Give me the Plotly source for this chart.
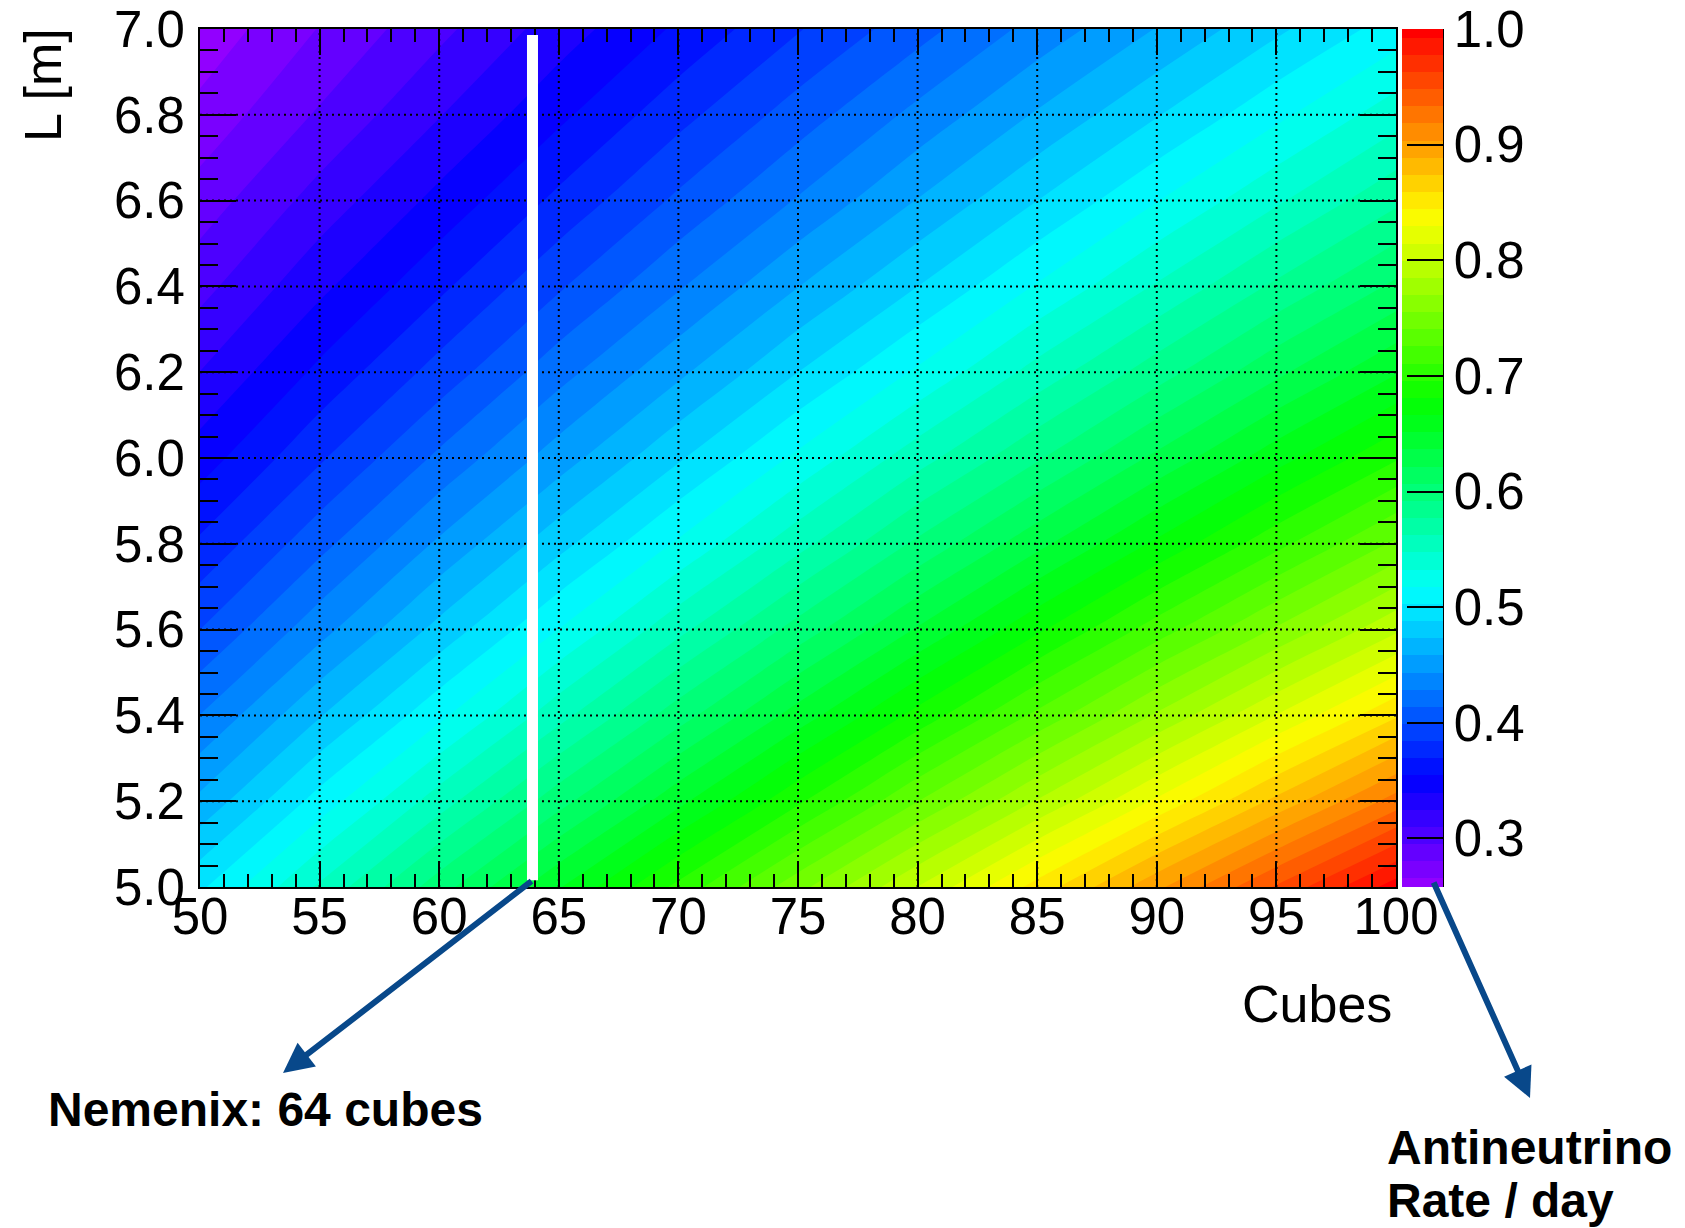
import colorsys
import plotly.graph_objects as go

# ---------------- data ----------------
cubes = [50, 55, 60, 65, 70, 75, 80, 85, 90, 95, 100]
length_m = [5.0, 5.2, 5.4, 5.6, 5.8, 6.0, 6.2, 6.4, 6.6, 6.8, 7.0]

rate_L50 = [0.500, 0.550, 0.600, 0.650, 0.700, 0.750, 0.800, 0.850, 0.900, 0.950, 1.000]
rate_L52 = [0.462, 0.509, 0.555, 0.601, 0.647, 0.693, 0.740, 0.786, 0.832, 0.878, 0.925]
rate_L54 = [0.429, 0.472, 0.514, 0.557, 0.600, 0.643, 0.686, 0.729, 0.772, 0.815, 0.857]
rate_L56 = [0.399, 0.438, 0.478, 0.518, 0.558, 0.598, 0.638, 0.678, 0.718, 0.757, 0.797]
rate_L58 = [0.372, 0.409, 0.446, 0.483, 0.520, 0.557, 0.595, 0.632, 0.669, 0.706, 0.743]
rate_L60 = [0.347, 0.382, 0.417, 0.451, 0.486, 0.521, 0.556, 0.590, 0.625, 0.660, 0.694]
rate_L62 = [0.325, 0.358, 0.390, 0.423, 0.455, 0.488, 0.520, 0.553, 0.585, 0.618, 0.650]
rate_L64 = [0.305, 0.336, 0.366, 0.397, 0.427, 0.458, 0.488, 0.519, 0.549, 0.580, 0.610]
rate_L66 = [0.287, 0.316, 0.344, 0.373, 0.402, 0.430, 0.459, 0.488, 0.517, 0.545, 0.574]
rate_L68 = [0.270, 0.297, 0.324, 0.351, 0.379, 0.406, 0.433, 0.460, 0.487, 0.514, 0.541]
rate_L70 = [0.255, 0.281, 0.306, 0.332, 0.357, 0.383, 0.408, 0.434, 0.459, 0.485, 0.510]

rate_rows = [rate_L50, rate_L52, rate_L54, rate_L56, rate_L58, rate_L60,
             rate_L62, rate_L64, rate_L66, rate_L68, rate_L70]

x_ticks = [50, 55, 60, 65, 70, 75, 80, 85, 90, 95, 100]
y_ticks = [5.0, 5.2, 5.4, 5.6, 5.8, 6.0, 6.2, 6.4, 6.6, 6.8, 7.0]
cbar_ticks = [0.3, 0.4, 0.5, 0.6, 0.7, 0.8, 0.9, 1.0]
cbar_range = [0.258, 1.0]
n_levels = 50
nemenix_line_x = 63.9
nemenix_L = [5.016, 6.986]

# ---------------- styling ----------------
FONT = "Liberation Sans, Arial, Helvetica, sans-serif"
ARROW = "#08488a"
W, H = 1685, 1228
PL, PR, PT, PB = 200, 1396, 29, 887


def px(x):
    return (x - PL) / (PR - PL)


def py(y):
    return (PB - y) / (PB - PT)


# ROOT "pretty palette" (violet -> red), 50 colours
colors = []
for k in range(n_levels - 1):
    hue = 280 - (k + 1) * 280 / n_levels
    r, g, b = colorsys.hls_to_rgb(hue / 360.0, 0.5, 1.0)
    colors.append(f"rgb({round(r*255)},{round(g*255)},{round(b*255)})")
colors.append("rgb(255,0,0)")
colorscale = [[i / (n_levels - 1), colors[i]] for i in range(n_levels)]

# contour levels chosen so the colour bar spans exactly cbar_range
step = (cbar_range[1] - cbar_range[0]) / n_levels
c_start = cbar_range[0] + step / 2
c_end = c_start + (n_levels - 1) * step

fig = go.Figure()
fig.add_trace(go.Contour(
    x=cubes, y=length_m, z=rate_rows,
    autocontour=False,
    contours=dict(start=c_start, end=c_end, size=step, coloring="fill", showlines=False),
    line=dict(width=0),
    colorscale=colorscale,
    colorbar=dict(
        x=px(1402), xanchor="left", y=0.5, yanchor="middle",
        len=1, lenmode="fraction", thickness=41, thicknessmode="pixels",
        xpad=0, ypad=0, outlinewidth=0,
        ticks="inside", ticklen=36, tickwidth=2, tickcolor="black",
        tickvals=cbar_ticks, ticktext=[f"{v:.1f}" for v in cbar_ticks],
        tickfont=dict(size=51, family=FONT, color="black"),
    ),
    hoverinfo="skip",
))

shapes = []
for xv in x_ticks[1:-1]:
    shapes.append(dict(type="line", xref="x", yref="y", x0=xv, x1=xv, y0=y_ticks[0], y1=y_ticks[-1],
                       line=dict(color="black", width=2, dash="2px,4px"), layer="above"))
for yv in y_ticks[1:-1]:
    shapes.append(dict(type="line", xref="x", yref="y", x0=x_ticks[0], x1=x_ticks[-1], y0=yv, y1=yv,
                       line=dict(color="black", width=2, dash="2px,4px"), layer="above"))
shapes.append(dict(type="line", xref="x", yref="y", x0=nemenix_line_x, x1=nemenix_line_x,
                   y0=nemenix_L[0], y1=nemenix_L[1], line=dict(color="white", width=11), layer="above"))
shapes.append(dict(type="line", xref="paper", yref="paper", x0=px(1443), x1=px(1443), y0=0, y1=1,
                   line=dict(color="black", width=2), layer="above"))

annotations = [
    dict(x=px(283), y=py(1073), xref="paper", yref="paper", text="", showarrow=True,
         ax=533 - 283, ay=880 - 1073, arrowcolor=ARROW, arrowwidth=6, arrowhead=2, arrowsize=1, standoff=0),
    dict(x=px(1530), y=py(1098), xref="paper", yref="paper", text="", showarrow=True,
         ax=1433 - 1530, ay=881 - 1098, arrowcolor=ARROW, arrowwidth=6, arrowhead=2, arrowsize=1, standoff=0),
    dict(x=px(46), y=py(1109), xref="paper", yref="paper", text="Nemenix: 64 cubes", showarrow=False,
         xanchor="left", yanchor="middle", font=dict(size=48, family=FONT, color="black", weight="bold")),
    dict(x=px(1385), y=py(1147), xref="paper", yref="paper", text="Antineutrino", showarrow=False,
         xanchor="left", yanchor="middle", font=dict(size=48, family=FONT, color="black", weight="bold")),
    dict(x=px(1385), y=py(1200), xref="paper", yref="paper", text="Rate / day", showarrow=False,
         xanchor="left", yanchor="middle", font=dict(size=48, family=FONT, color="black", weight="bold")),
    dict(x=px(1394), y=py(1004), xref="paper", yref="paper", text="Cubes", showarrow=False,
         xanchor="right", yanchor="middle", font=dict(size=52, family=FONT, color="black")),
    dict(x=px(43), y=py(85), xref="paper", yref="paper", text="L [m]", showarrow=False, textangle=-90,
         xanchor="center", yanchor="middle", font=dict(size=52, family=FONT, color="black")),
]

axis_common = dict(
    ticks="inside", tickwidth=2, tickcolor="black",
    showline=True, linewidth=2, linecolor="black", mirror="ticks",
    showgrid=False, zeroline=False, automargin=False,
    tickfont=dict(size=51, family=FONT, color="black"),
)

fig.update_layout(
    width=W, height=H,
    margin=dict(l=PL, r=W - PR, t=PT, b=H - PB, autoexpand=False),
    paper_bgcolor="white", plot_bgcolor="white",
    font=dict(family=FONT, color="black"),
    xaxis=dict(range=[x_ticks[0], x_ticks[-1]], tickvals=x_ticks, ticktext=[str(v) for v in x_ticks],
               ticklen=26, ticklabelstandoff=-16,
               minor=dict(dtick=1, ticks="inside", ticklen=13, tickwidth=2, tickcolor="black", showgrid=False),
               **axis_common),
    yaxis=dict(range=[y_ticks[0], y_ticks[-1]], tickvals=y_ticks, ticktext=[f"{v:.1f}" for v in y_ticks],
               ticklen=36, ticklabelstandoff=3,
               minor=dict(dtick=0.05, ticks="inside", ticklen=18, tickwidth=2, tickcolor="black", showgrid=False),
               **axis_common),
    shapes=shapes,
    annotations=annotations,
    showlegend=False,
)

fig.write_html("out.html")
